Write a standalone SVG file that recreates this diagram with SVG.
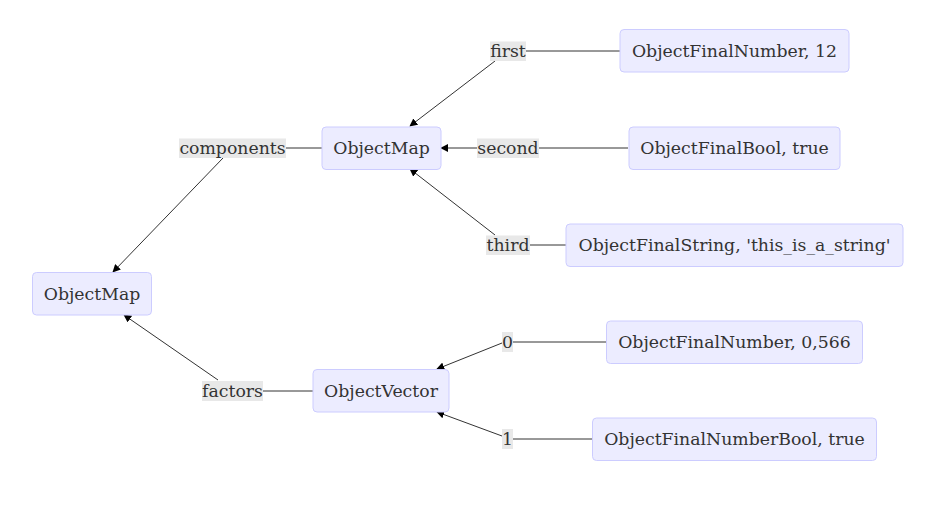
<svg xmlns="http://www.w3.org/2000/svg" width="950" height="512" viewBox="0 0 950 512">
<style>
.node rect{fill:#ECECFF;stroke:#CCCCFF;stroke-width:1}
text{font-family:"DejaVu Serif",serif;font-size:17.3px;fill:#333;text-anchor:middle;dominant-baseline:central}
.lbl rect{fill:#e8e8e8;stroke:none}
.edge{stroke:#333;stroke-width:1;fill:none}
</style>
<defs>
<marker id="ah" viewBox="0 0 10 10" refX="9" refY="5" markerWidth="8" markerHeight="8" orient="auto" markerUnits="userSpaceOnUse">
<path d="M0,0 L10,5 L0,10 z" fill="#000"/>
</marker>
</defs>
<rect width="950" height="512" fill="#fff"/>
<g id="connectors">
<path class="edge" d="M620,51 L526,51"/>
<path class="edge" d="M495,61 L410,126" marker-end="url(#ah)"/>
<path class="edge" d="M628,148 L539,148"/>
<path class="edge" d="M477,148 L441,148" marker-end="url(#ah)"/>
<path class="edge" d="M566,245 L530,245"/>
<path class="edge" d="M495,235 L410,169" marker-end="url(#ah)"/>
<path class="edge" d="M322,148 L286,148"/>
<path class="edge" d="M223,158 L113,272" marker-end="url(#ah)"/>
<path class="edge" d="M313,391 L263,391"/>
<path class="edge" d="M218,380 L124,315" marker-end="url(#ah)"/>
<path class="edge" d="M606,342 L513,342"/>
<path class="edge" d="M502,343 L437,369" marker-end="url(#ah)"/>
<path class="edge" d="M592,439 L513,439"/>
<path class="edge" d="M502,436 L437,412" marker-end="url(#ah)"/>
</g>
<g id="labels">
<g class="lbl"><rect x="490" y="41.5" width="36" height="19.5"/><text x="508" y="51">first</text></g>
<g class="lbl"><rect x="477" y="138.5" width="62" height="19.5"/><text x="508" y="148">second</text></g>
<g class="lbl"><rect x="486" y="235.5" width="44" height="19.5"/><text x="508" y="245">third</text></g>
<g class="lbl"><rect x="179" y="138.5" width="107" height="19.5"/><text x="232.5" y="148">components</text></g>
<g class="lbl"><rect x="202" y="381" width="61" height="20"/><text x="232.5" y="391">factors</text></g>
<g class="lbl"><rect x="502" y="332" width="11" height="20"/><text x="507.5" y="342">0</text></g>
<g class="lbl"><rect x="502" y="429" width="11" height="20"/><text x="507.5" y="439">1</text></g>
</g>
<g id="root" class="node"><rect x="32.5" y="272.5" width="119" height="42.5" rx="4"/><text x="92" y="294">ObjectMap</text></g>
<g id="components" class="node"><rect x="322" y="127" width="119" height="42.5" rx="4"/><text x="381.5" y="148">ObjectMap</text></g>
<g id="factors" class="node"><rect x="313" y="369.5" width="136" height="42.5" rx="4"/><text x="381" y="391">ObjectVector</text></g>
<g id="first" class="node"><rect x="620" y="29.5" width="229" height="42.5" rx="4"/><text x="734.5" y="51">ObjectFinalNumber, 12</text></g>
<g id="second" class="node"><rect x="629" y="127" width="211" height="42.5" rx="4"/><text x="734.5" y="148">ObjectFinalBool, true</text></g>
<g id="third" class="node"><rect x="566" y="224" width="337" height="42.5" rx="4"/><text x="734.5" y="245">ObjectFinalString, 'this_is_a_string'</text></g>
<g id="v0" class="node"><rect x="606.5" y="321" width="256" height="42.5" rx="4"/><text x="734.5" y="342">ObjectFinalNumber, 0,566</text></g>
<g id="v1" class="node"><rect x="592.5" y="418" width="284" height="42.5" rx="4"/><text x="734.5" y="439">ObjectFinalNumberBool, true</text></g>
</svg>
